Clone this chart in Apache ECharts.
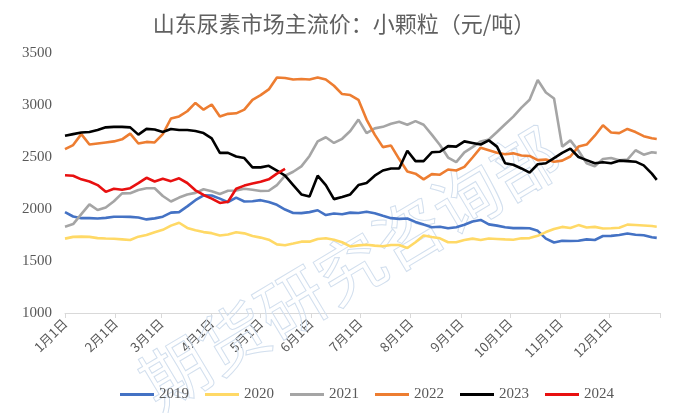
<!DOCTYPE html>
<html>
<head>
<meta charset="utf-8">
<script src="https://cdn.jsdelivr.net/npm/echarts@6/dist/echarts.min.js"></script>
<style>html,body{margin:0;padding:0;background:#fff;}#c{width:688px;height:413px;}</style>
</head>
<body>
<div id="c"></div>
<script>
// Day-of-year sample positions
const days = [0,5,10,15,20,25,30,35,40,45,50,55,60,65,70,75,80,85,90,95,100,105,110,115,120,125,130,135,140,145,150,155,160,165,170,175,180,185,190,195,200,205,210,215,220,225,230,235,240,245,250,255,260,265,270,275,280,285,290,295,300,305,310,315,320,325,330,335,340,345,350,355,360,363];
// Month tick positions and labels
const monthDays = [0,31,59,90,120,151,181,212,243,273,304,334];
const tickDays = [0,31,59,90,120,151,181,212,243,273,304,334,365];
const monthLabels = ['1月1日','2月1日','3月1日','4月1日','5月1日','6月1日','7月1日','8月1日','9月1日','10月1日','11月1日','12月1日'];
const yTicks = [1000,1500,2000,2500,3000,3500];

const y2019 = [1970,1928,1912,1912,1908,1915,1926,1926,1924,1918,
1900,1910,1926,1965,1970,2025,2085,2132,2130,2100,
2065,2110,2072,2075,2085,2068,2040,1995,1962,1960,
1970,1988,1942,1956,1950,1965,1962,1974,1960,1935,
1912,1905,1908,1876,1850,1825,1830,1815,1825,1848,
1880,1895,1852,1840,1825,1816,1818,1815,1790,1715,
1678,1695,1692,1694,1708,1702,1740,1742,1750,1764,
1752,1748,1728,1722];
const y2020 = [1715,1732,1734,1732,1720,1716,1714,1708,1702,1734,
1750,1776,1800,1840,1868,1818,1795,1778,1768,1745,
1755,1776,1766,1740,1725,1705,1660,1652,1668,1686,
1686,1712,1718,1705,1680,1640,1650,1656,1648,1642,
1654,1654,1625,1680,1745,1730,1718,1680,1680,1702,
1715,1702,1716,1712,1708,1705,1718,1720,1742,1778,
1808,1828,1818,1845,1822,1828,1812,1815,1820,1850,
1846,1842,1836,1830];
const y2021 = [1830,1855,1950,2045,1990,2015,2075,2150,2152,2183,
2200,2200,2125,2072,2110,2140,2155,2190,2170,2145,
2175,2178,2195,2185,2173,2175,2230,2320,2358,2410,
2510,2650,2690,2635,2675,2750,2860,2730,2775,2790,
2820,2838,2810,2845,2810,2715,2615,2495,2450,2545,
2595,2650,2668,2740,2815,2888,2975,3050,3240,3120,
3063,2600,2660,2560,2440,2410,2480,2490,2468,2475,
2565,2522,2545,2540];
const y2022 = [2575,2615,2720,2620,2630,2640,2650,2670,2725,2630,
2645,2640,2720,2870,2890,2940,3020,2955,3005,2890,
2915,2920,2955,3050,3095,3150,3265,3260,3245,3250,
3245,3265,3245,3185,3105,3096,3050,2860,2715,2595,
2610,2480,2360,2340,2285,2335,2330,2380,2370,2405,
2495,2590,2565,2540,2527,2535,2515,2510,2470,2475,
2455,2465,2505,2600,2620,2705,2805,2735,2730,2770,
2740,2700,2680,2673];
const y2023 = [2705,2720,2735,2740,2760,2785,2790,2790,2785,2715,
2770,2765,2740,2770,2760,2760,2750,2730,2680,2540,
2540,2505,2490,2400,2400,2415,2370,2320,2230,2140,
2120,2320,2230,2095,2115,2140,2230,2250,2320,2370,
2390,2390,2560,2460,2460,2545,2550,2605,2600,2650,
2635,2620,2660,2600,2440,2425,2390,2350,2430,2440,
2490,2540,2580,2500,2470,2440,2450,2440,2465,2460,
2455,2420,2340,2280];
const y2024 = [2325,2320,2285,2265,2230,2165,2195,2185,2200,2248,
2300,2265,2290,2268,2295,2250,2180,2135,2100,2058,
2070,2195,2225,2245,2262,2285,2340,2385];

const seriesNames = ['2019','2020','2021','2022','2023','2024'];
const seriesValues = [y2019,y2020,y2021,y2022,y2023,y2024];
const seriesColors = ['#4472C4','#FFD966','#A5A5A5','#ED7D31','#000000','#E81010'];

const chart = echarts.init(document.getElementById('c'), null, {renderer:'canvas'});
const option = {
  animation: false,
  backgroundColor: '#ffffff',
  title: {
    text: '山东尿素市场主流价：小颗粒（元/吨）',
    left: 'center', top: 8,
    textStyle: {fontFamily: '"Noto Sans CJK SC"', fontSize: 22, fontWeight: 'normal', color: '#606060'}
  },
  graphic: [{
    type: 'text', z: 1, silent: true,
    x: 350, y: 268, rotation: 0.54,
    style: {
      text: '期货研究咨询部',
      font: '68px "Noto Sans CJK SC"',
      fill: 'rgba(0,0,0,0)', stroke: '#D2DFEE', lineWidth: 1,
      align: 'center', verticalAlign: 'middle'
    }
  }],
  legend: {
    data: seriesNames,
    left: 115, top: 382,
    icon: 'rect', itemWidth: 34, itemHeight: 3, itemGap: 16,
    textStyle: {fontFamily: '"Liberation Serif"', fontSize: 15, color: '#595959'}
  },
  grid: {left: 65, right: 28, top: 53, bottom: 100},
  xAxis: {
    type: 'value', min: 0, max: 365,
    axisLine: {show: true, lineStyle: {color: '#D9D9D9', width: 1}},
    axisTick: {show: true, customValues: tickDays, length: 5, lineStyle: {color: '#D9D9D9'}},
    axisLabel: {
      customValues: monthDays,
      formatter: function (v) { const i = monthDays.indexOf(v); return i >= 0 ? monthLabels[i] : ''; },
      rotate: 45, margin: 8, color: '#595959', fontSize: 13, fontFamily: '"Noto Sans CJK SC"'
    },
    splitLine: {show: false}
  },
  yAxis: {
    type: 'value', min: yTicks[0], max: yTicks[yTicks.length-1], interval: 500,
    axisLine: {show: false}, axisTick: {show: false},
    axisLabel: {color: '#595959', fontSize: 15, fontFamily: '"Liberation Serif"', margin: 13,
      formatter: function (v) { return String(v); }},
    splitLine: {show: false}
  },
  series: seriesNames.map(function (name, k) {
    const vals = seriesValues[k];
    return {
      name: name, type: 'line', showSymbol: false, symbol: 'none', z: 3 + k,
      color: seriesColors[k],
      lineStyle: {width: 2.6, color: seriesColors[k]},
      data: vals.map(function (v, i) { return [days[i], v]; })
    };
  })
};
chart.setOption(option);
</script>
</body>
</html>
